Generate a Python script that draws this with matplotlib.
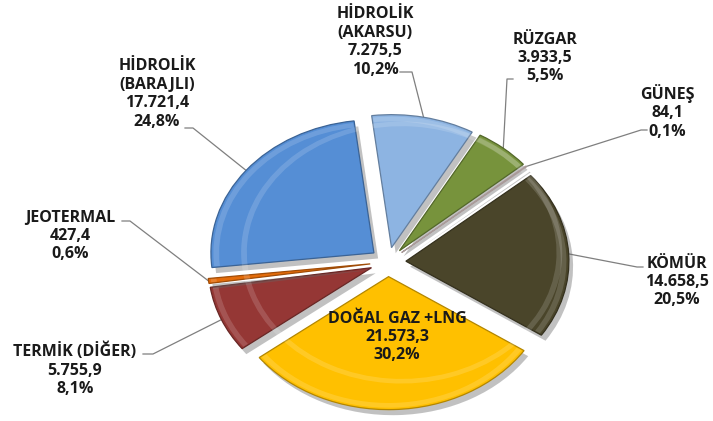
import numpy as np
import matplotlib.pyplot as plt
from matplotlib import patheffects as pe
from matplotlib.patches import Wedge

# data, clockwise from the top
names = ["HİDROLİK\n(AKARSU)", "RÜZGAR", "GÜNEŞ", "KÖMÜR", "DOĞAL GAZ +LNG",
         "TERMİK (DİĞER)", "JEOTERMAL", "HİDROLİK\n(BARAJLI)"]
values = [7275.5, 3933.5, 84.1, 14658.5, 21573.3, 5755.9, 427.4, 17721.4]
colors = ["#8DB4E2", "#77933C", "#F2DCDB", "#4A452A", "#FFC000",
          "#953735", "#E46C0A", "#558ED5"]

# layout in pixels (from top-left): label centre, leader end, elbow direction
W, H = 713, 421
CX, CY, RX, RY = 388, 262, 163, 133
label_xy = [(375, 42), (545, 58), (667, 112), (677, 282), (397, 337),
            (75, 370), (70, 236), (157, 94)]
leader_end = [(400, 72), (513, 79), (647, 130), (643, 267), None,
              (143, 354), (122, 221), (185, 128)]
elbow = [12, -6, -6, -6, 0, 10, 8, 8]


def px(x, y):
    return (x - CX) / RX, (CY - y) / RY


def tr_fmt(v, dec=1):
    s = f"{v:,.{dec}f}"
    return s.replace(",", "X").replace(".", ",").replace("X", ".")


def darker(c, f=0.6):
    r, g, b = plt.matplotlib.colors.to_rgb(c)
    return (r * f, g * f, b * f)


fig = plt.figure(figsize=(W / 100, H / 100), dpi=100)
ax = fig.add_axes([0, 0, 1, 1])
total = sum(values)

wedges, _ = ax.pie(values, colors=colors, startangle=97, counterclock=False,
                   explode=[0.11] * len(values), radius=1,
                   wedgeprops=dict(linewidth=0.9))
ax.set_aspect("auto")
ax.set_xlim(-CX / RX, (W - CX) / RX)
ax.set_ylim((CY - H) / RY, CY / RY)
ax.axis("off")

for w, c in zip(wedges, colors):
    w.set_edgecolor(darker(c, 0.7))
    w.set_path_effects([pe.SimplePatchShadow(offset=(3, -4), shadow_rgbFace="#666666", alpha=0.4),
                        pe.Normal()])
    # soft bevel just inside the rim
    ax.add_patch(Wedge(w.center, w.r * 0.985, w.theta1 + 0.4, w.theta2 - 0.4, width=0.035,
                       facecolor=(1, 1, 1, 0.15), edgecolor="none"))

font = dict(family=["Open Sans", "DejaVu Sans"], fontweight="bold", fontsize=11.5,
            color="#1a1a1a", ha="center", va="center", linespacing=1.2)

for i, w in enumerate(wedges):
    pct = values[i] / total * 100
    txt = f"{names[i]}\n{tr_fmt(values[i])}\n{tr_fmt(pct)}%"
    ax.text(*px(*label_xy[i]), txt, **font)
    if leader_end[i] is None:
        continue
    mid = np.deg2rad((w.theta1 + w.theta2) / 2)
    ax_, ay_ = w.center[0] + w.r * np.cos(mid), w.center[1] + w.r * np.sin(mid)
    ex, ey = leader_end[i]
    p1 = px(ex, ey)
    p2 = px(ex + elbow[i], ey)
    ax.plot([p1[0], p2[0], ax_], [p1[1], p2[1], ay_], color="#7f7f7f", lw=0.9, zorder=0.5)

fig.savefig("out.png", dpi=100)
